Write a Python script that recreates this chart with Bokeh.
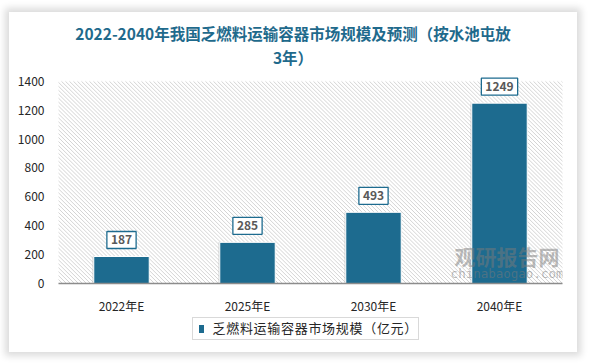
import numpy as np
from bokeh.plotting import figure
from bokeh.layouts import column
from bokeh.models import ColumnDataSource, Label, Range1d, FixedTicker, Div
from bokeh.embed import file_html
from bokeh.resources import INLINE
from bokeh.transform import dodge

categories = ["2022年E", "2025年E", "2030年E", "2040年E"]
values = [187, 285, 493, 1249]
y_ticks = [0, 200, 400, 600, 800, 1000, 1200, 1400]
title_line1 = "2022-2040年我国乏燃料运输容器市场规模及预测（按水池屯放"
title_line2 = "3年）"
series_name = "乏燃料运输容器市场规模（亿元）"

BAR = "#1d6b8f"
CJK = "Noto Sans CJK SC"
W = 568

src = ColumnDataSource(dict(cat=categories, val=values))

FW, FH = 504, 205   # hatched plot area (0..1400) in px
EXTRA = 10          # px of room above 1400 so the top value box is not clipped
ymax = y_ticks[-1]
y_end = ymax + EXTRA * ymax / FH

p = figure(width=W, height=2 + EXTRA + FH + 30, x_range=categories, y_range=Range1d(0, y_end),
           output_backend="svg", toolbar_location=None,
           min_border_left=49, min_border_right=15, min_border_top=2, min_border_bottom=30,
           margin=0)
p.outline_line_color = None
p.border_fill_color = "white"
p.background_fill_color = "white"
p.xgrid.grid_line_color = None
p.ygrid.grid_line_color = None

# diagonal hatch of the plot area (decoration, "\" direction)
n = len(categories)
step = 4.0
starts_px = np.arange(-FH, FW + step, step)
x0 = starts_px / FW * n
x1 = (starts_px + FH) / FW * n
p.segment(x0=x0, y0=np.full_like(x0, ymax), x1=x1, y1=np.zeros_like(x0),
          line_color="#d4d4d4", line_width=1)

# bar shadow
p.vbar(x=dodge("cat", -0.012, range=p.x_range), top="val", width=0.44, source=src,
       fill_color="#bdbdbd", fill_alpha=0.45, line_color=None)
bars = p.vbar(x="cat", top="val", width=0.44, source=src,
              fill_color=BAR, line_color="white", line_width=1)

for i, v in enumerate(values):
    p.add_layout(Label(x=i + 0.5, y=v, y_offset=8, text=str(v),
                       text_align="center", text_baseline="bottom",
                       text_font=CJK, text_font_size="12px", text_font_style="bold",
                       text_color="#595959", background_fill_color="white",
                       border_line_color=BAR, border_line_width=1.3, padding=4))

p.yaxis.ticker = FixedTicker(ticks=y_ticks)
p.yaxis.axis_line_color = None
p.yaxis.major_tick_line_color = None
p.yaxis.minor_tick_line_color = None
p.yaxis.major_label_text_font = CJK
p.yaxis.major_label_text_font_size = "12px"
p.yaxis.major_label_text_color = "#262626"
p.yaxis.major_label_standoff = 8

p.xaxis.axis_line_color = "#8c8c8c"
p.xaxis.axis_line_width = 1.3
p.xaxis.major_tick_line_color = None
p.xaxis.minor_tick_line_color = None
p.xaxis.major_label_text_font = CJK
p.xaxis.major_label_text_font_size = "12px"
p.xaxis.major_label_text_color = "#262626"
p.xaxis.major_label_standoff = 7

# watermark
p.add_layout(Label(x=3.56, y=191, text="观研报告网", text_font=CJK, text_font_size="21px",
                   text_font_style="bold", text_color="#7a7a7a", text_alpha=0.5,
                   text_align="center", text_baseline="middle"))
p.add_layout(Label(x=3.56, y=66, text="chinabaogao.com", text_font="DejaVu Sans Mono", text_font_size="12.5px",
                   text_color="#7a7a7a", text_alpha=0.5, text_align="center", text_baseline="middle"))

title_div = Div(
    text=(f'<div style="width:{W}px;text-align:center;font-family:\'{CJK}\';font-weight:bold;'
          f'font-size:15.5px;color:#1f6a8c;line-height:24px;padding-top:9px;">'
          f'{title_line1}<br>{title_line2}</div>'),
    width=W, height=57, margin=0)

legend_div = Div(
    text=(f'<div style="margin-left:183px;margin-top:1px;width:227px;height:23px;'
          f'border:1.5px solid #d9d9d9;display:flex;align-items:center;background:white;">'
          f'<span style="display:inline-block;width:8px;height:8px;background:{BAR};'
          f'margin-left:6px;margin-right:8px;"></span>'
          f'<span style="font-family:\'{CJK}\';font-size:13px;color:#262626;letter-spacing:0.7px;'
          f'white-space:nowrap;">{series_name}</span></div>'),
    width=W, height=36, margin=0)

layout = column(title_div, p, legend_div, width=W, spacing=0, margin=(12, 0, 0, 9),
                styles={"background": "white", "box-shadow": "0px 0px 7px 4px #dcdcdc"})

open("out.html", "w").write(file_html(layout, INLINE))
